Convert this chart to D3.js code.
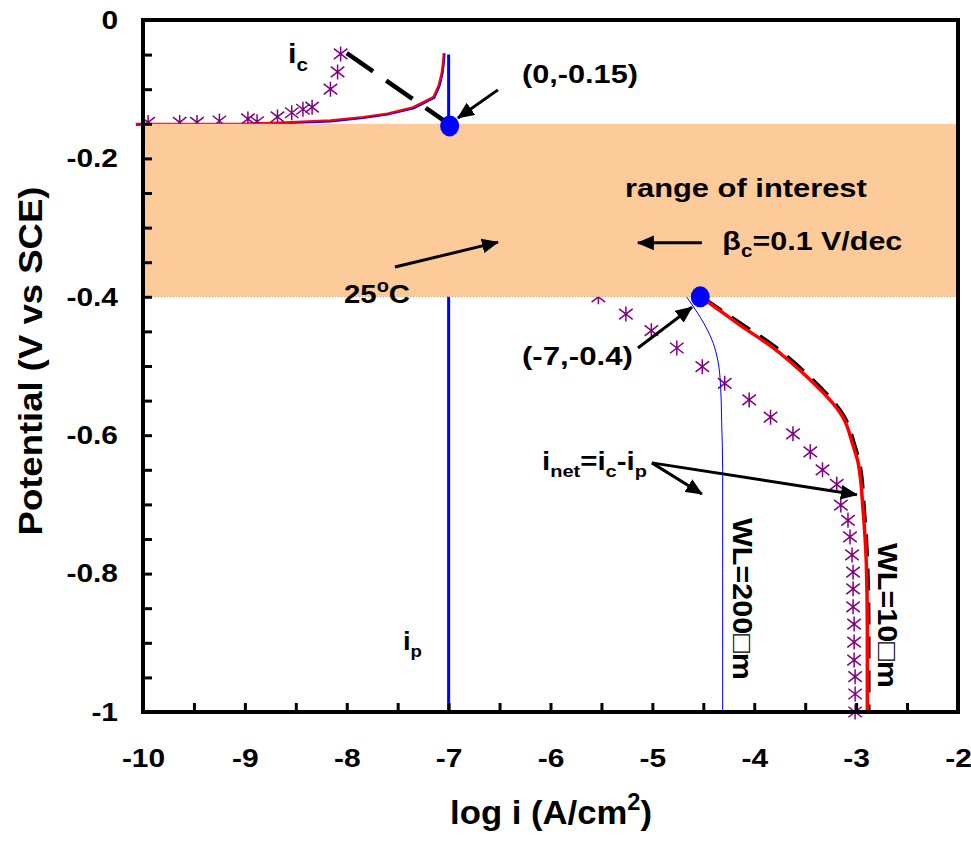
<!DOCTYPE html>
<html lang="en">
<head>
<meta charset="UTF-8"/>
<title>Potential vs log i</title>
<script src="https://d3js.org/d3.v7.min.js"></script>
<style>
  body { margin: 0; background: #fff; }
  text { font-family: "Liberation Sans", Arial, sans-serif; font-weight: bold; fill: #000; }
</style>
</head>
<body>
<svg id="chart" width="971" height="841"></svg>
<script>
// ---- data: [log i (A/cm2), E (V vs SCE)] ----
// upper branch, two overlapping model curves (red / blue)
var topRed = [[-10.07,-0.150],[-9.0,-0.1495],[-8.66,-0.148],[-8.16,-0.145],[-7.84,-0.140],[-7.6,-0.135],
              [-7.35,-0.126],[-7.15,-0.111],[-7.10,-0.095],[-7.07,-0.077],[-7.055,-0.060],[-7.05,-0.048]];
var topBlue = [[-10.07,-0.1515],[-9.0,-0.151],[-8.66,-0.1495],[-8.16,-0.1465],[-7.84,-0.1415],[-7.6,-0.1365],
               [-7.34,-0.1275],[-7.14,-0.1125],[-7.09,-0.096],[-7.06,-0.078],[-7.045,-0.060],[-7.04,-0.048]];
// measured points (asterisks)
var topStars = [[-9.95,-0.148],[-9.64,-0.148],[-9.47,-0.148],[-9.25,-0.146],[-8.97,-0.143],[-8.88,-0.147],
                [-8.68,-0.140],[-8.54,-0.134],[-8.43,-0.129],[-8.34,-0.126],[-8.16,-0.100],[-8.09,-0.075],[-8.06,-0.049]];
// Tafel line, beta_c = 0.1 V/dec
var tafel = [[-8.0,-0.048],[-7.0,-0.150]];
// passive current i_p
var ipLine = [[-7.0,-0.05],[-7.0,-1.0]];
// lower branch
var lowStars = [[-5.53,-0.400],[-5.26,-0.425],[-5.01,-0.449],[-4.76,-0.474],[-4.51,-0.501],[-4.29,-0.525],
                [-4.05,-0.549],[-3.84,-0.574],[-3.62,-0.598],[-3.45,-0.624],[-3.33,-0.650],[-3.19,-0.671],
                [-3.15,-0.701],[-3.08,-0.723],[-3.06,-0.747],[-3.04,-0.773],[-3.03,-0.798],[-3.03,-0.822],
                [-3.03,-0.848],[-3.02,-0.873],[-3.02,-0.899],[-3.02,-0.925],[-3.01,-0.949],[-3.01,-0.974],[-3.01,-1.000]];
var wl200 = [[-4.68,-0.397],[-4.58,-0.418],[-4.47,-0.445],[-4.40,-0.468],[-4.36,-0.490],[-4.33,-0.530],
             [-4.32,-0.580],[-4.31,-0.650],[-4.31,-0.800],[-4.31,-1.0]];
var wl10 = [[-4.53,-0.400],[-4.455,-0.4075],[-4.14,-0.441],[-3.82,-0.473],[-3.48,-0.516],[-3.13,-0.574],
            [-3.03,-0.615],[-2.98,-0.640],[-2.93,-0.712],[-2.90,-0.785],[-2.89,-0.881],[-2.89,-1.0]];
var wl10Model = [[-4.50,-0.402],[-4.13,-0.439],[-3.81,-0.471],[-3.47,-0.514],[-3.115,-0.574],[-3.015,-0.615],
                 [-2.965,-0.642],[-2.92,-0.712],[-2.89,-0.785],[-2.878,-0.881],[-2.878,-1.0]];
var dots = [[-6.99,-0.153],[-4.53,-0.400]];
// range of interest band
var band = [-0.15,-0.40];

var xTicks = d3.range(-10, -1.99, 0.5);
var xTickLabels = ["-10","-9","-8","-7","-6","-5","-4","-3","-2"];
var yTicks = d3.range(0, 21).map(function(i){ return -i * 0.05; });
var yTickLabels = ["0","-0.2","-0.4","-0.6","-0.8","-1"];

var svg = d3.select("#chart");
var x = d3.scaleLinear().domain([-10, -2]).range([143, 958]);
var y = d3.scaleLinear().domain([0, -1]).range([20, 712]);

var defs = svg.append("defs");
defs.append("marker").attr("id", "head")
  .attr("viewBox", "0 0 16 14").attr("refX", 15).attr("refY", 7)
  .attr("markerWidth", 17).attr("markerHeight", 15)
  .attr("markerUnits", "userSpaceOnUse").attr("orient", "auto")
  .append("path").attr("d", "M0,0 L16,7 L0,14 z").attr("fill", "#000");

var line = d3.line().x(function(d){ return x(d[0]); }).y(function(d){ return y(d[1]); });
var smooth = d3.line().x(function(d){ return x(d[0]); }).y(function(d){ return y(d[1]); }).curve(d3.curveMonotoneY);

// ---- curves ----
var plot = svg.append("g");
plot.append("path").attr("d", line(topBlue))
  .attr("fill", "none").attr("stroke", "#0000ff").attr("stroke-width", 2);
plot.append("path").attr("d", line(topRed))
  .attr("fill", "none").attr("stroke", "#ff0000").attr("stroke-width", 2);
plot.append("path").attr("d", line(ipLine))
  .attr("fill", "none").attr("stroke", "#0000ff").attr("stroke-width", 3);
plot.append("path").attr("d", line(tafel))
  .attr("fill", "none").attr("stroke", "#000").attr("stroke-width", 4.5).attr("stroke-dasharray", "32,16");

function star(s) {
  var a = s * 0.9, b = s * 0.7;
  return "M0," + (-s) + "L0," + s + "M" + (-a) + "," + (-b) + "L" + a + "," + b + "M" + (-a) + "," + b + "L" + a + "," + (-b);
}
plot.selectAll(".star").data(topStars.concat(lowStars)).enter().append("path")
  .attr("class", "star")
  .attr("transform", function(d){ return "translate(" + x(d[0]) + "," + y(d[1]) + ")"; })
  .attr("d", star(7.5)).attr("fill", "none").attr("stroke", "#800080").attr("stroke-width", 1.5);

plot.append("path").attr("d", smooth(wl200))
  .attr("fill", "none").attr("stroke", "#0000ff").attr("stroke-width", 1);
plot.append("path").attr("d", smooth(wl10Model))
  .attr("fill", "none").attr("stroke", "#000").attr("stroke-width", 4).attr("stroke-dasharray", "22,12");
plot.append("path").attr("d", smooth(wl10))
  .attr("fill", "none").attr("stroke", "#ff0000").attr("stroke-width", 3.5);

// ---- range of interest band (drawn over the curves) ----
svg.append("rect")
  .attr("x", x(-10) - 2).attr("y", y(band[0]))
  .attr("width", x(-2) - x(-10)).attr("height", y(band[1]) - y(band[0]))
  .attr("fill", "#fdcb99");
svg.append("line")
  .attr("x1", x(-10)).attr("x2", x(-2)).attr("y1", y(band[1])).attr("y2", y(band[1]))
  .attr("stroke", "#a8a8a8").attr("stroke-width", 1).attr("stroke-dasharray", "1,2");

// ---- axes ----
function stretch(sel, k) {
  sel.each(function(){
    var len = this.getComputedTextLength();
    d3.select(this).attr("textLength", len * k).attr("lengthAdjust", "spacingAndGlyphs");
  });
}
var xAxis = svg.append("g").attr("transform", "translate(0," + y(-1) + ")")
  .call(d3.axisBottom(x).tickValues(xTicks).tickSizeInner(-9).tickSizeOuter(0).tickPadding(37)
    .tickFormat(function(d){ return Number.isInteger(d) ? xTickLabels[d + 10] : ""; }));
var yAxis = svg.append("g").attr("transform", "translate(" + x(-10) + ",0)")
  .call(d3.axisLeft(y).tickValues(yTicks).tickSizeInner(-9).tickSizeOuter(0).tickPadding(25)
    .tickFormat(function(d, i){ return i % 4 === 0 ? yTickLabels[i / 4] : ""; }));
[xAxis, yAxis].forEach(function(a){
  a.select(".domain").remove();
  a.selectAll(".tick line").attr("stroke", "#000").attr("stroke-width", 3);
  a.selectAll(".tick text").attr("fill", "#000").style("font-size", "26px")
    .style("font-family", "'Liberation Sans', Arial, sans-serif").style("font-weight", "bold");
  stretch(a.selectAll(".tick text"), 1.15);
});
svg.append("rect")
  .attr("x", x(-10)).attr("y", y(0)).attr("width", x(-2) - x(-10)).attr("height", y(-1) - y(0))
  .attr("fill", "none").attr("stroke", "#000").attr("stroke-width", 4);

// ---- markers on top ----
svg.selectAll(".dot").data(dots).enter().append("ellipse")
  .attr("cx", function(d){ return x(d[0]); }).attr("cy", function(d){ return y(d[1]); })
  .attr("rx", 9.5).attr("ry", 10.5).attr("fill", "#0000ff");

// ---- annotations ----
var arrows = [
  [[-6.516,-0.101],[-6.909,-0.1416]],
  [[-4.514,-0.322],[-5.142,-0.322]],
  [[-7.527,-0.357],[-6.516,-0.321]],
  [[-5.142,-0.474],[-4.612,-0.415]],
  [[-5.005,-0.640],[-4.514,-0.685]],
  [[-5.005,-0.640],[-2.993,-0.686]]
];
svg.selectAll(".arrow").data(arrows).enter().append("line")
  .attr("x1", function(d){ return x(d[0][0]); }).attr("y1", function(d){ return y(d[0][1]); })
  .attr("x2", function(d){ return x(d[1][0]); }).attr("y2", function(d){ return y(d[1][1]); })
  .attr("stroke", "#000").attr("stroke-width", 3).attr("marker-end", "url(#head)");

function richText(px, py, parts, o) {
  var t = svg.append("text").style("font-size", o.size + "px");
  var shift = 0;
  parts.forEach(function(p){
    var target = p.sub ? o.size * 0.28 : (p.sup ? -o.size * 0.42 : 0);
    var ts = t.append("tspan").attr("dy", target - shift).text(p.t);
    if (p.sub || p.sup) ts.style("font-size", (o.size * 0.68) + "px");
    shift = target;
  });
  var k = o.len ? o.len / t.node().getComputedTextLength() : 1;
  var tr = "translate(" + px + "," + py + ")";
  if (o.rot) tr += " rotate(" + o.rot + ")";
  tr += " scale(" + k + ",1)";
  t.attr("transform", tr).attr("text-anchor", o.anchor || "start");
  return t;
}
var N = function(s){ return {t: s}; }, S = function(s){ return {t: s, sub: true}; }, P = function(s){ return {t: s, sup: true}; };

richText(x(-8.577), y(-0.0621), [N("i"), S("c")], {size: 27, len: 20});
richText(x(-6.280), y(-0.091), [N("(0,-0.15)")], {size: 26, len: 116});
richText(x(-5.269), y(-0.2558), [N("range of interest")], {size: 26, len: 242});
richText(x(-4.313), y(-0.3324), [N("\u03b2"), S("c"), N("=0.1 V/dec")], {size: 26, len: 180});
richText(x(-8.027), y(-0.409), [N("25"), P("o"), N("C")], {size: 26, len: 66});
richText(x(-6.280), y(-0.4986), [N("(-7,-0.4)")], {size: 26, len: 111});
richText(x(-6.083), y(-0.650), [N("i"), S("net"), N("=i"), S("c"), N("-i"), S("p")], {size: 25, len: 105});
richText(x(-7.448), y(-0.910), [N("i"), S("p")], {size: 25, len: 19});
richText(x(-4.209), y(-0.7197), [N("WL=200\u25a1m")], {size: 28, len: 162, rot: 90});
richText(x(-2.790), y(-0.7558), [N("WL=10\u25a1m")], {size: 28, len: 145, rot: 90});

// axis titles
richText(551, 824, [N("log i (A/cm"), P("2"), N(")")], {size: 34, len: 202, anchor: "middle"});
richText(42, 361, [N("Potential (V vs SCE)")], {size: 34, len: 349, rot: -90, anchor: "middle"});
</script>
</body>
</html>
